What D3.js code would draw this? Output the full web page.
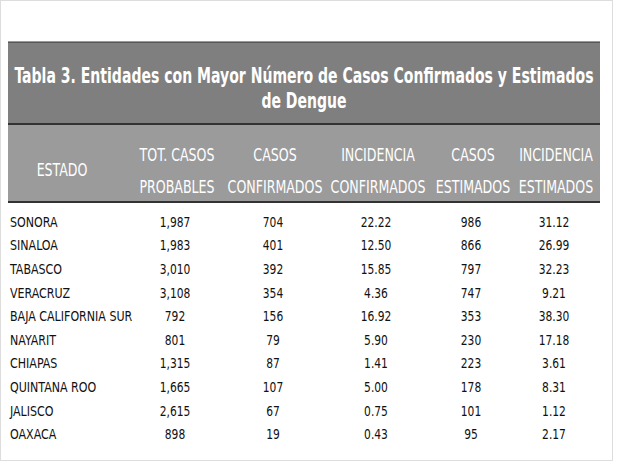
<!DOCTYPE html><html><head><meta charset="utf-8"><script src="https://cdn.jsdelivr.net/npm/d3@7"></script>
<style>body{margin:0;background:#fff}text{font-family:"DejaVu Sans Condensed","Liberation Sans",sans-serif}</style></head><body><svg width="618" height="462"></svg>
<script>
const states=["SONORA","SINALOA","TABASCO","VERACRUZ","BAJA CALIFORNIA SUR","NAYARIT","CHIAPAS","QUINTANA ROO","JALISCO","OAXACA"];
const totProbables=["1,987","1,983","3,010","3,108","792","801","1,315","1,665","2,615","898"];
const casosConf=["704","401","392","354","156","79","87","107","67","19"];
const incConf=["22.22","12.50","15.85","4.36","16.92","5.90","1.41","5.00","0.75","0.43"];
const casosEst=["986","866","797","747","353","230","223","178","101","95"];
const incEst=["31.12","26.99","32.23","9.21","38.30","17.18","3.61","8.31","1.12","2.17"];
const headers=[["ESTADO"],["TOT. CASOS","PROBABLES"],["CASOS","CONFIRMADOS"],["INCIDENCIA","CONFIRMADOS"],["CASOS","ESTIMADOS"],["INCIDENCIA","ESTIMADOS"]];
const colX=[62,177,275,378,473,556];
const svg=d3.select("svg");
function txt(x,y,s,size,opts={}){
  const sx=opts.sx||0.75;
  return svg.append("text").attr("transform",`translate(${x},${y}) scale(${sx},1)`)
    .attr("font-size",size).attr("fill",opts.fill||"#111").attr("font-weight",opts.bold?"bold":null)
    .attr("text-anchor",opts.anchor||"middle").text(s);
}
svg.append("rect").attr("x",0.5).attr("y",0.5).attr("width",612).attr("height",460).attr("fill","none").attr("stroke","#ddd");
svg.append("rect").attr("x",8).attr("y",42).attr("width",592).attr("height",82).attr("fill","#7f7f7f");
svg.append("rect").attr("x",8).attr("y",124).attr("width",592).attr("height",78).attr("fill","#9b9b9b");
svg.append("line").attr("x1",8).attr("x2",600).attr("y1",124).attr("y2",124).attr("stroke","#333").attr("stroke-width",2);
svg.append("line").attr("x1",8).attr("x2",600).attr("y1",202).attr("y2",202).attr("stroke","#333").attr("stroke-width",2);
svg.append("line").attr("x1",8).attr("x2",600).attr("y1",42).attr("y2",42).attr("stroke","#333").attr("stroke-width",1);
txt(304,83,"Tabla 3. Entidades con Mayor Número de  Casos Confirmados y  Estimados",22,{fill:"#fff",bold:true,sx:0.71});
txt(304,108,"de Dengue",22,{fill:"#fff",bold:true,sx:0.71});
headers.forEach((h,i)=>{
  const ys=h.length===1?[176]:[161,193];
  h.forEach((s,j)=>txt(colX[i],ys[j],s,17.5,{fill:"#fff",sx:0.8}));
});
const y=d3.scaleBand().domain(states).range([210,446]);
const cols=[totProbables,casosConf,incConf,casosEst,incEst];
states.forEach((s,r)=>{
  const cy=y(s)+y.bandwidth()/2+5;
  txt(10,cy,s,14,{anchor:"start",sx:0.88});
  cols.forEach((c,k)=>txt(colX[k+1]-2,cy,c[r],14,{sx:0.85}));
});
</script></body></html>
